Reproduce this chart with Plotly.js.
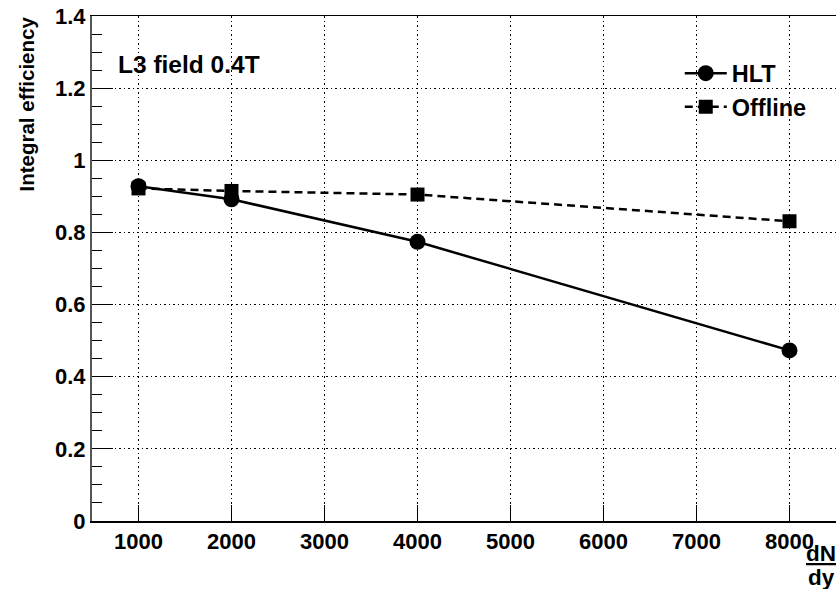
<!DOCTYPE html>
<html>
<head>
<meta charset="utf-8">
<script src="https://cdn.plot.ly/plotly-3.0.1.min.js"></script>
<style>html,body{margin:0;padding:0;background:#fff;}#chart{width:836px;height:589px;}</style>
</head>
<body>
<div id="chart"></div>
<script>
const multiplicity = [1000, 2000, 4000, 8000];
const hltEff = [0.928, 0.892, 0.774, 0.473];
const offlineEff = [0.922, 0.915, 0.905, 0.831];
const seriesNames = ["HLT", "Offline"];
const xTicks = [1000, 2000, 3000, 4000, 5000, 6000, 7000, 8000];
const yTicks = [0, 0.2, 0.4, 0.6, 0.8, 1, 1.2, 1.4];

const FONT = "Liberation Sans, Arial, Helvetica, sans-serif";

const traces = [
  {
    x: multiplicity, y: hltEff, name: seriesNames[0], type: "scatter", mode: "lines+markers",
    line: {color: "#000", width: 2.5, dash: "solid"},
    marker: {symbol: "circle", size: 16, color: "#000"}
  },
  {
    x: multiplicity, y: offlineEff, name: seriesNames[1], type: "scatter", mode: "lines+markers",
    line: {color: "#000", width: 2.5, dash: "8px,5px"},
    marker: {symbol: "square", size: 14, color: "#000"}
  }
];

const layout = {
  width: 836, height: 589,
  margin: {l: 92, r: 0, t: 16, b: 68},
  paper_bgcolor: "#fff", plot_bgcolor: "#fff",
  font: {family: FONT, color: "#000"},
  showlegend: true,
  legend: {
    x: 0.79, y: 0.93, xanchor: "left", yanchor: "top",
    bgcolor: "rgba(0,0,0,0)", borderwidth: 0,
    itemwidth: 42,
    font: {family: FONT, size: 23.5, weight: "bold", color: "#000"},
    tracegroupgap: 0
  },
  xaxis: {
    range: [500, 8500],
    tickvals: xTicks,
    ticktext: xTicks.map(String),
    ticks: "inside", ticklen: 16, tickwidth: 1, tickcolor: "#000",
    showline: true, linecolor: "#000", linewidth: 1.5, mirror: true,
    showgrid: true, gridcolor: "#000", griddash: "1.5px,3px", gridwidth: 1,
    zeroline: false,
    tickfont: {family: FONT, size: 22, weight: "bold", color: "#000"}
  },
  yaxis: {
    range: [0, 1.4],
    tickvals: yTicks,
    ticktext: yTicks.map(String),
    ticks: "inside", ticklen: 21, tickwidth: 1, tickcolor: "#000",
    minor: {dtick: 0.05, ticks: "inside", ticklen: 10, tickcolor: "#000", showgrid: false},
    showline: true, linecolor: "#555", linewidth: 2,
    showgrid: true, gridcolor: "#000", griddash: "1.5px,3px", gridwidth: 1,
    zeroline: false,
    tickfont: {family: FONT, size: 22, weight: "bold", color: "#000"}
  },
  annotations: [
    {
      text: "Integral efficiency", textangle: -90,
      xref: "paper", yref: "paper", x: 0, y: 1, xshift: -66, yshift: 1,
      xanchor: "center", yanchor: "top", showarrow: false,
      font: {family: FONT, size: 20.5, weight: "bold", color: "#000"}
    },
    {
      text: "L3 field 0.4T",
      xref: "paper", yref: "paper", x: 0, y: 0.903, xshift: 24,
      xanchor: "left", yanchor: "middle", showarrow: false,
      font: {family: FONT, size: 24.5, weight: "bold", color: "#000"}
    },
    {
      text: "<u>dN</u>",
      xref: "paper", yref: "paper", x: 1, y: 0, xshift: -15, yshift: -32,
      xanchor: "center", yanchor: "middle", showarrow: false,
      font: {family: FONT, size: 22.5, weight: "bold", color: "#000"}
    },
    {
      text: "dy",
      xref: "paper", yref: "paper", x: 1, y: 0, xshift: -15, yshift: -56,
      xanchor: "center", yanchor: "middle", showarrow: false,
      font: {family: FONT, size: 22.5, weight: "bold", color: "#000"}
    }
  ]
};

Plotly.newPlot("chart", traces, layout, {displayModeBar: false, staticPlot: true});
</script>
</body>
</html>
